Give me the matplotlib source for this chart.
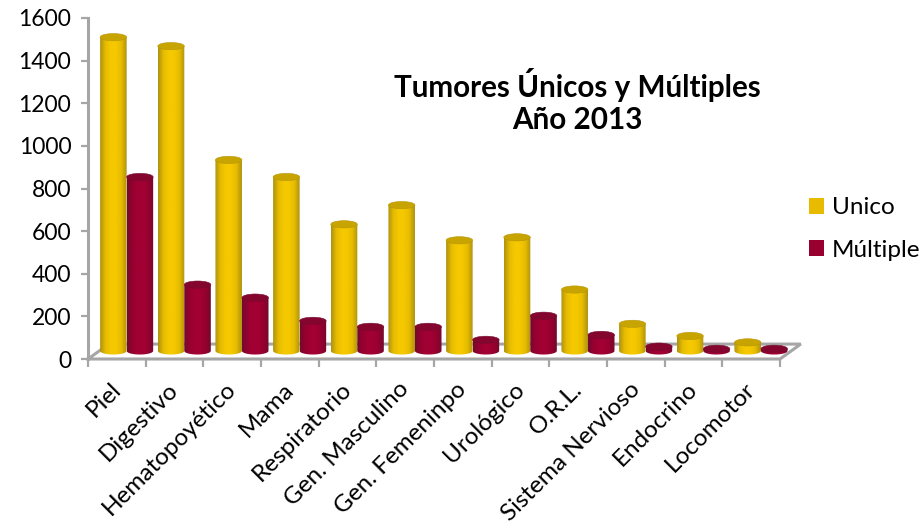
import numpy as np
import matplotlib
matplotlib.use("Agg")
import matplotlib.pyplot as plt  # noqa: E402
from matplotlib.colors import LinearSegmentedColormap  # noqa: E402
from matplotlib.patches import Ellipse, Patch  # noqa: E402

plt.rcParams["font.family"] = ["Lato", "DejaVu Sans"]

categories = ["Piel", "Digestivo", "Hematopoyético", "Mama", "Respiratorio",
              "Gen. Masculino", "Gen. Femeninpo", "Urológico", "O.R.L.",
              "Sistema Nervioso", "Endocrino", "Locomotor"]
unico = [1472, 1430, 896, 816, 594, 684, 519, 533, 288, 127, 70, 40]
multiple = [816, 311, 250, 141, 113, 113, 52, 165, 75, 20, 10, 10]
yticks = [0, 200, 400, 600, 800, 1000, 1200, 1400, 1600]

W, H = 923, 522
GRAY = "#A6A6A6"
BASE = 38       # the columns stand a bit behind the front edge of the floor
BAR_W = 0.46
ELL_H = 34


def column(fig, ax, x0, value, shades, top, edge):
    x1 = x0 + BAR_W
    y1 = BASE + value
    cmap = LinearSegmentedColormap.from_list("c", shades)
    grad = np.linspace(0, 1, 64).reshape(1, -1)
    im = ax.imshow(grad, cmap=cmap, extent=(x0, x1, BASE - ELL_H / 2, y1),
                   aspect="auto", zorder=4)
    # clip the gradient to the side of the cylinder with a rounded bottom
    t = np.linspace(np.pi, 2 * np.pi, 30)
    xs = (x0 + x1) / 2 + BAR_W / 2 * np.cos(t)
    ys = BASE + ELL_H / 2 * np.sin(t)
    outline = np.column_stack([np.r_[xs, x1, x0], np.r_[ys, y1, y1]])
    clip = plt.Polygon(outline, closed=True, transform=ax.transData, fc="none", ec="none")
    ax.add_patch(clip)
    im.set_clip_box(fig.bbox)  # last column pokes out past the axes
    im.set_clip_path(clip)
    ax.add_patch(Ellipse(((x0 + x1) / 2, y1), BAR_W, ELL_H, fc=top, ec=edge, lw=0.4,
                         zorder=5, clip_on=False))


fig = plt.figure(figsize=(W / 100, H / 100), dpi=100)
ax = fig.add_axes([88 / W, 1 - 359 / H, (780 - 88) / W, (359 - 18) / H])

yellow = ["#AE9210", "#E6BC00", "#F5C800", "#F5C800", "#E6BC00", "#AE9210"]
red = ["#740A2E", "#96002F", "#A20034", "#A20034", "#96002F", "#740A2E"]
for i in range(len(categories)):
    column(fig, ax, i + 0.21, unico[i], yellow, "#C8A400", "#B8960A")
    column(fig, ax, i + 0.67, multiple[i], red, "#84062F", "#740A2E")

# floor of the 3D box
floor_x = [0, 12, 12.36, 0.36, 0]
floor_y = [0, 0, 70, 70, 0]
ax.plot(floor_x, floor_y, color=GRAY, lw=2.2, clip_on=False, zorder=2, solid_joinstyle="miter")

ax.set_xlim(0, 12)
ax.set_ylim(0, 1600)
for s in ["top", "right", "bottom"]:
    ax.spines[s].set_visible(False)
ax.spines["left"].set_color(GRAY)
ax.spines["left"].set_linewidth(2.2)

ax.set_yticks(yticks)
ax.tick_params(axis="y", length=5, width=1.6, color=GRAY, labelsize=16.5, pad=7, labelcolor="black")
ax.set_xticks(range(len(categories) + 1))
ax.set_xticks(np.arange(len(categories)) + 0.38, minor=True)
ax.set_xticklabels([])
ax.set_xticklabels(categories, minor=True, rotation=45, ha="right", rotation_mode="anchor")
ax.tick_params(axis="x", which="major", length=6, width=1.6, color=GRAY)
ax.tick_params(axis="x", which="minor", length=0, labelsize=17.5, pad=14)

fig.text(577 / W, 1 - 85 / H, "Tumores Únicos y Múltiples", ha="center", va="center",
         fontsize=21.3, fontweight="bold")
fig.text(577 / W, 1 - 120 / H, "Año 2013", ha="center", va="center",
         fontsize=21.3, fontweight="bold")

handles = [Patch(fc="#E8BA00", ec="none", label="Unico"),
           Patch(fc="#98002F", ec="none", label="Múltiple")]
fig.legend(handles=handles, loc="center left", bbox_to_anchor=(809 / W, 1 - 229 / H),
           frameon=False, fontsize=17.5, handlelength=0.62, handleheight=0.62,
           handletextpad=0.33, labelspacing=0.88, borderpad=0, borderaxespad=0)

fig.savefig("out.png", dpi=100)
